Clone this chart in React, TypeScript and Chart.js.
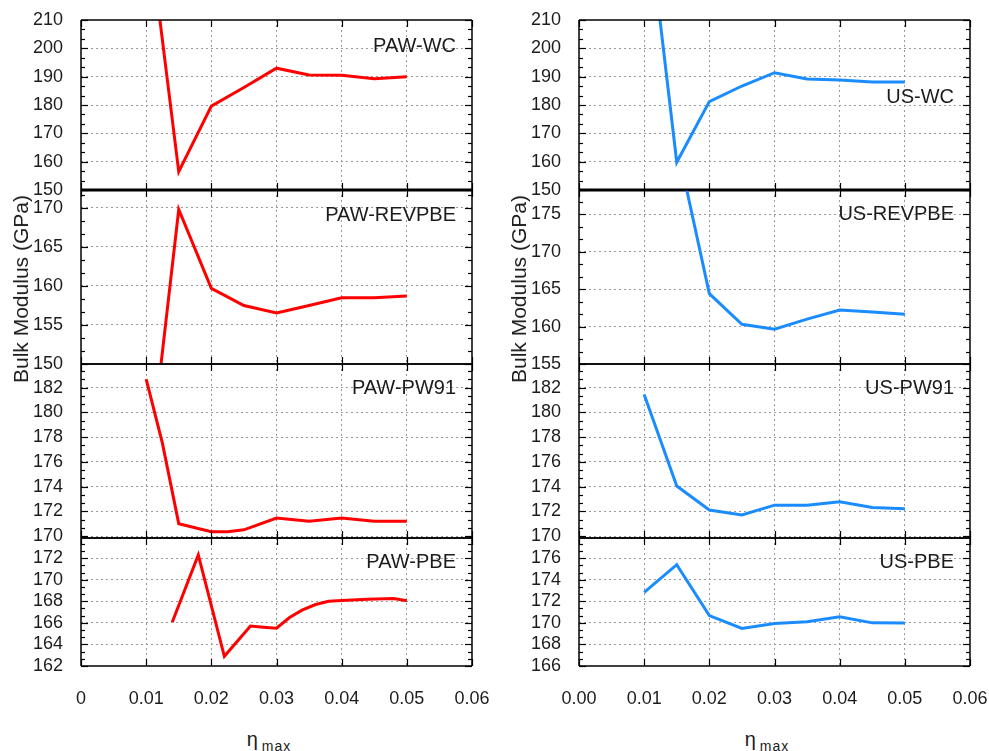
import React, { useEffect, useRef } from "react";
import { Chart, registerables } from "chart.js";
Chart.register(...registerables);

// ---------- data ----------
const xTicks = [0, 0.01, 0.02, 0.03, 0.04, 0.05, 0.06];

const pawWcX = [0.01, 0.015, 0.02, 0.025, 0.03, 0.035, 0.04, 0.045, 0.05];
const pawWcY = [249, 156.5, 179.6, 186.2, 193.0, 190.6, 190.5, 189.3, 190.0];

const pawRevpbeX = [0.01, 0.015, 0.02, 0.025, 0.03, 0.035, 0.04, 0.045, 0.05];
const pawRevpbeY = [133.4, 169.8, 159.7, 157.5, 156.55, 157.5, 158.5, 158.5, 158.7];

const pawPw91X = [0.01, 0.0125, 0.015, 0.02, 0.0225, 0.025, 0.03, 0.035, 0.04, 0.045, 0.05];
const pawPw91Y = [182.7, 177.5, 171.0, 170.35, 170.35, 170.5, 171.45, 171.2, 171.45, 171.2, 171.2];

const pawPbeX = [0.014, 0.018, 0.022, 0.026, 0.028, 0.03, 0.032, 0.034, 0.036, 0.038, 0.04, 0.044, 0.048, 0.05];
const pawPbeY = [166.05, 172.3, 162.9, 165.7, 165.6, 165.5, 166.5, 167.2, 167.7, 168.0, 168.07, 168.2, 168.25, 168.05];

const usWcX = [0.01, 0.015, 0.02, 0.025, 0.03, 0.035, 0.04, 0.045, 0.05];
const usWcY = [257.5, 159.8, 181.2, 186.7, 191.4, 189.2, 188.8, 188.1, 188.1];

const usRevpbeX = [0.01, 0.015, 0.02, 0.025, 0.03, 0.035, 0.04, 0.045, 0.05];
const usRevpbeY = [195, 184.4, 164.4, 160.3, 159.65, 161.0, 162.2, 161.95, 161.65];

const usPw91X = [0.01, 0.015, 0.02, 0.025, 0.03, 0.035, 0.04, 0.045, 0.05];
const usPw91Y = [181.46, 174.05, 172.1, 171.7, 172.5, 172.5, 172.78, 172.3, 172.2];

const usPbeX = [0.01, 0.015, 0.02, 0.025, 0.03, 0.035, 0.04, 0.045, 0.05];
const usPbeY = [172.83, 175.4, 170.68, 169.48, 169.94, 170.1, 170.56, 170.0, 169.98];

// y tick labels per panel
const yTicksWc = [150, 160, 170, 180, 190, 200, 210];
const yTicksPawRevpbe = [150, 155, 160, 165, 170];
const yTicksPw91 = [170, 172, 174, 176, 178, 180, 182];
const yTicksPawPbe = [162, 164, 166, 168, 170, 172];
const yTicksUsRevpbe = [155, 160, 165, 170, 175];
const yTicksUsPbe = [166, 168, 170, 172, 174, 176];

const RED = "#ff0000";
const BLUE = "#1a8cff";
const FONT = '"Liberation Sans", Arial, Helvetica, sans-serif';

const ROW_TOPS = [20, 190, 364, 538];
const ROW_BOTTOMS = [190, 364, 538, 666];
const COL_LEFT = [81, 579];
const COL_RIGHT = [472, 970];
const CANVAS_LEFT = [0, 498];

type Spec = {
  label: string;
  xs: number[];
  ys: number[];
  color: string;
  yMin: number;
  yMax: number;
  yTicks: number[];
  labelDy: number;
};

const leftSpecs: Spec[] = [
  { label: "PAW-WC", xs: pawWcX, ys: pawWcY, color: RED, yMin: 150, yMax: 210, yTicks: yTicksWc, labelDy: 26 },
  { label: "PAW-REVPBE", xs: pawRevpbeX, ys: pawRevpbeY, color: RED, yMin: 150, yMax: 172.3, yTicks: yTicksPawRevpbe, labelDy: 25 },
  { label: "PAW-PW91", xs: pawPw91X, ys: pawPw91Y, color: RED, yMin: 169.84, yMax: 183.92, yTicks: yTicksPw91, labelDy: 24 },
  { label: "PAW-PBE", xs: pawPbeX, ys: pawPbeY, color: RED, yMin: 162, yMax: 173.87, yTicks: yTicksPawPbe, labelDy: 24.5 },
];
const rightSpecs: Spec[] = [
  { label: "US-WC", xs: usWcX, ys: usWcY, color: BLUE, yMin: 150, yMax: 210, yTicks: yTicksWc, labelDy: 77 },
  { label: "US-REVPBE", xs: usRevpbeX, ys: usRevpbeY, color: BLUE, yMin: 155, yMax: 178.25, yTicks: yTicksUsRevpbe, labelDy: 24 },
  { label: "US-PW91", xs: usPw91X, ys: usPw91Y, color: BLUE, yMin: 169.84, yMax: 183.92, yTicks: yTicksPw91, labelDy: 24 },
  { label: "US-PBE", xs: usPbeX, ys: usPbeY, color: BLUE, yMin: 166, yMax: 177.87, yTicks: yTicksUsPbe, labelDy: 24.5 },
];

function makeFramePlugin(spec: Spec, thickBottom: boolean) {
  return {
    id: "frame",
    afterDraw(chart: any) {
      const ctx: CanvasRenderingContext2D = chart.ctx;
      const xs = chart.scales.x;
      const ys = chart.scales.y;
      const L = xs.left;
      const R = xs.right;
      const T = ys.top;
      const B = ys.bottom;
      const seg = (x1: number, y1: number, x2: number, y2: number, w: number) => {
        ctx.beginPath();
        ctx.lineWidth = w;
        ctx.moveTo(x1, y1);
        ctx.lineTo(x2, y2);
        ctx.stroke();
      };
      ctx.save();
      ctx.setLineDash([]);
      ctx.globalAlpha = 1;
      ctx.strokeStyle = "#000000";
      const t = spec.yTicks;
      const step = t[1] - t[0];
      const minor = step / 3;
      const n0 = Math.ceil((ys.min - t[0]) / minor - 1e-6);
      const n1 = Math.floor((ys.max - t[0]) / minor + 1e-6);
      for (let k = n0; k <= n1; k++) {
        const v = t[0] + k * minor;
        const len = k % 3 === 0 ? 7 : 4;
        const p = Math.round(ys.getPixelForValue(v)) + 0.5;
        seg(L, p, L + len, p, 1.2);
        seg(R, p, R - len, p, 1.2);
      }
      for (const v of xTicks) {
        const p = Math.round(xs.getPixelForValue(v)) + 0.5;
        seg(p, T, p, T + 7, 1.2);
        seg(p, B, p, B - 7, 1.2);
      }
      seg(L, T, R, T, 1.5);
      seg(L, B, R, B, thickBottom ? 3 : 1.5);
      seg(L, T, L, B, 1.5);
      seg(R, T, R, B, 1.5);
      ctx.fillStyle = "#1c1c1c";
      ctx.font = "20px " + FONT;
      ctx.textAlign = "right";
      ctx.textBaseline = "middle";
      ctx.fillText(spec.label, R - 16, T + spec.labelDy);
      ctx.restore();
    },
  };
}

function Panel({ spec, col, row }: { spec: Spec; col: number; row: number }) {
  const ref = useRef<HTMLCanvasElement | null>(null);
  const isBottom = row === 3;
  const xAxisH = isBottom ? 50 : 0;
  const padTop = 12;
  const padBottom = isBottom ? 0 : 12;
  const canvasLeft = CANVAS_LEFT[col];
  const yAxisW = COL_LEFT[col] - canvasLeft;
  const padRight = 22;
  const width = COL_RIGHT[col] - canvasLeft + padRight;
  const height = ROW_BOTTOMS[row] - ROW_TOPS[row] + padTop + padBottom + xAxisH;
  const top = ROW_TOPS[row] - padTop;

  useEffect(() => {
    if (!ref.current) return;
    const gridColor = (c: any, lo: number, hi: number) => {
      const v = c.tick ? c.tick.value : NaN;
      if (Math.abs(v - lo) < 1e-9 || Math.abs(v - hi) < 1e-9) return "rgba(0,0,0,0)";
      return "#9a9a9a";
    };
    const chart = new Chart(ref.current, {
      type: "line",
      data: {
        datasets: [
          {
            data: spec.xs.map((x, i) => ({ x, y: spec.ys[i] })),
            borderColor: spec.color,
            backgroundColor: spec.color,
            borderWidth: 3,
            pointRadius: 0,
            tension: 0,
            fill: false,
            clip: 0,
          } as any,
        ],
      },
      options: {
        animation: false,
        responsive: false,
        maintainAspectRatio: false,
        devicePixelRatio: 1,
        events: [],
        layout: { padding: { left: 0, right: padRight, top: padTop, bottom: padBottom } },
        plugins: {
          legend: { display: false },
          tooltip: { enabled: false },
          title: { display: false },
        },
        scales: {
          x: {
            type: "linear",
            min: 0,
            max: 0.06,
            afterBuildTicks: (s: any) => {
              s.ticks = xTicks.map((v) => ({ value: v }));
            },
            afterFit: (s: any) => {
              s.height = xAxisH;
              s.paddingLeft = 0;
              s.paddingRight = 0;
              s.paddingTop = 0;
              s.paddingBottom = 0;
            },
            grid: {
              color: (c: any) => gridColor(c, 0, 0.06),
              lineWidth: 1,
              drawTicks: false,
            },
            border: { display: false, dash: [2, 3] },
            ticks: {
              display: isBottom,
              padding: 22,
              color: "#1c1c1c",
              font: { family: FONT, size: 18 },
              autoSkip: false,
              maxRotation: 0,
              callback: (v: any) => (col === 0 && Number(v) === 0 ? "0" : Number(v).toFixed(2)),
            },
          },
          y: {
            type: "linear",
            min: spec.yMin,
            max: spec.yMax,
            afterBuildTicks: (s: any) => {
              s.ticks = spec.yTicks.map((v) => ({ value: v }));
            },
            afterFit: (s: any) => {
              s.width = yAxisW;
              s.paddingLeft = 0;
              s.paddingRight = 0;
              s.paddingTop = 0;
              s.paddingBottom = 0;
            },
            grid: {
              color: (c: any) => gridColor(c, spec.yMin, spec.yMax),
              lineWidth: 1,
              drawTicks: false,
            },
            border: { display: false, dash: [2, 3] },
            ticks: {
              padding: 18,
              color: "#1c1c1c",
              font: { family: FONT, size: 18 },
              autoSkip: false,
              callback: (v: any) => String(v),
            },
          },
        },
      } as any,
      plugins: [makeFramePlugin(spec, row === 0) as any],
    });
    return () => chart.destroy();
  }, []);

  return (
    <canvas
      ref={ref}
      width={width}
      height={height}
      style={{ position: "absolute", left: canvasLeft, top, width, height }}
    />
  );
}

function YTitle({ cx }: { cx: number }) {
  return (
    <div
      style={{
        position: "absolute",
        left: cx,
        top: 289,
        transform: "translate(-50%, -50%) rotate(-90deg)",
        whiteSpace: "nowrap",
        font: "21px " + FONT,
        color: "#1c1c1c",
        lineHeight: "24px",
      }}
    >
      Bulk Modulus (GPa)
    </div>
  );
}

function XTitle({ cx }: { cx: number }) {
  return (
    <div
      style={{
        position: "absolute",
        left: cx - 100,
        width: 200,
        top: 727,
        textAlign: "center",
        whiteSpace: "nowrap",
        fontFamily: FONT,
        color: "#1c1c1c",
        lineHeight: "24px",
      }}
    >
      <span style={{ fontSize: 20 }}>η</span>
      <span style={{ fontSize: 14, position: "relative", top: 5, letterSpacing: 1, marginLeft: 4 }}>max</span>
    </div>
  );
}

export default function App() {
  return (
    <div style={{ position: "absolute", left: 0, top: 0, width: 989, height: 751, background: "#fff", overflow: "hidden" }}>
      {leftSpecs.map((s, i) => (
        <Panel key={"l" + i} spec={s} col={0} row={i} />
      ))}
      {rightSpecs.map((s, i) => (
        <Panel key={"r" + i} spec={s} col={1} row={i} />
      ))}
      <YTitle cx={21} />
      <YTitle cx={519} />
      <XTitle cx={269} />
      <XTitle cx={767} />
    </div>
  );
}
